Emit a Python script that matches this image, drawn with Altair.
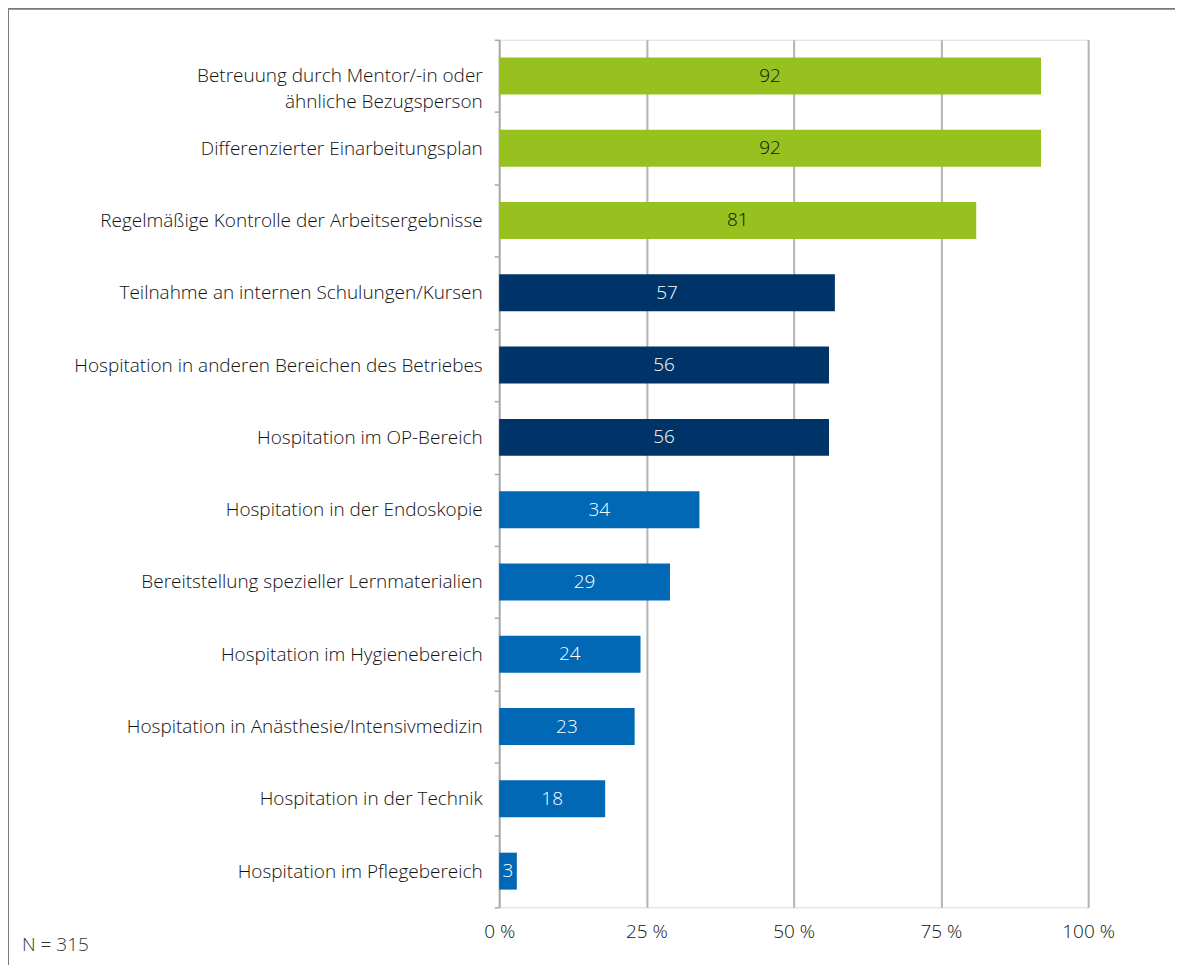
import altair as alt
import pandas as pd

categories = [
    "Betreuung durch Mentor/-in oder|ähnliche Bezugsperson",
    "Differenzierter Einarbeitungsplan",
    "Regelmäßige Kontrolle der Arbeitsergebnisse",
    "Teilnahme an internen Schulungen/Kursen",
    "Hospitation in anderen Bereichen des Betriebes",
    "Hospitation im OP-Bereich",
    "Hospitation in der Endoskopie",
    "Bereitstellung spezieller Lernmaterialien",
    "Hospitation im Hygienebereich",
    "Hospitation in Anästhesie/Intensivmedizin",
    "Hospitation in der Technik",
    "Hospitation im Pflegebereich",
]
values = [92, 92, 81, 57, 56, 56, 34, 29, 24, 23, 18, 3]
groups = ["g", "g", "g", "n", "n", "n", "b", "b", "b", "b", "b", "b"]

group_colors = {"g": "#96C11F", "n": "#003468", "b": "#0068B4"}
text_colors = {"g": "#111111", "n": "#ffffff", "b": "#ffffff"}

df = pd.DataFrame({
    "cat": categories,
    "val": values,
    "grp": groups,
})
df["half"] = df["val"] / 2
df["tcol"] = df["grp"].map(text_colors)

FONT = "Open Sans"
FS = 19
FW = 300

y_enc = alt.Y(
    "cat:N",
    sort=None,
    scale=alt.Scale(paddingInner=0, paddingOuter=0),
    axis=alt.Axis(
        title=None,
        labelExpr="split(datum.label, '|')",
        labelFont=FONT,
        labelFontSize=FS,
        labelFontWeight=FW,
        labelColor="#111111",
        labelLineHeight=26,
        labelPadding=12,
        tickSize=5,
        tickBand="extent",
        tickColor="#aaaaaa",
        tickWidth=1.5,
        domainColor="#aaaaaa",
        domainWidth=1.5,
        labelLimit=500,
    ),
)

bars = alt.Chart(df).mark_bar(size=37).encode(
    x=alt.X(
        "val:Q",
        scale=alt.Scale(domain=[0, 100], nice=False),
        axis=alt.Axis(
            title=None,
            values=[0, 25, 50, 75, 100],
            labelExpr="datum.value + ' %'",
            labelFont=FONT,
            labelFontSize=FS,
            labelFontWeight=FW,
            labelColor="#111111",
            labelPadding=15,
            labelFlush=False,
            ticks=False,
            domain=False,
            grid=True,
            gridColor="#b3b3b3",
            gridWidth=2,
        ),
    ),
    y=y_enc,
    color=alt.Color(
        "grp:N",
        scale=alt.Scale(domain=list(group_colors.keys()), range=list(group_colors.values())),
        legend=None,
    ),
)

labels = alt.Chart(df).mark_text(font=FONT, fontSize=FS, fontWeight=FW, baseline="middle", align="center").encode(
    x="half:Q",
    y=alt.Y("cat:N", sort=None),
    text="val:Q",
    color=alt.Color("tcol:N", scale=None),
)

frame = alt.Chart(pd.DataFrame({"a": [0]})).mark_rect(
    fillOpacity=0, stroke="#7a7a7a", strokeWidth=2
).encode(
    x=alt.value(-492), x2=alt.value(800), y=alt.value(-31), y2=alt.value(1000)
)

note = alt.Chart(pd.DataFrame({"t": ["N = 315"]})).mark_text(
    font=FONT, fontSize=FS, fontWeight=FW, align="left", baseline="middle", color="#333333"
).encode(
    x=alt.value(-478), y=alt.value(907), text="t:N"
)

chart = alt.layer(bars, labels, frame, note).properties(
    width=590,
    height=869,
    autosize=alt.AutoSizeParams(type="none"),
    padding={"left": 492, "top": 31, "right": 87, "bottom": 60},
).configure_view(stroke=None).configure(background="white")

chart.save("out.html", embed_options={"renderer": "svg", "actions": False})
